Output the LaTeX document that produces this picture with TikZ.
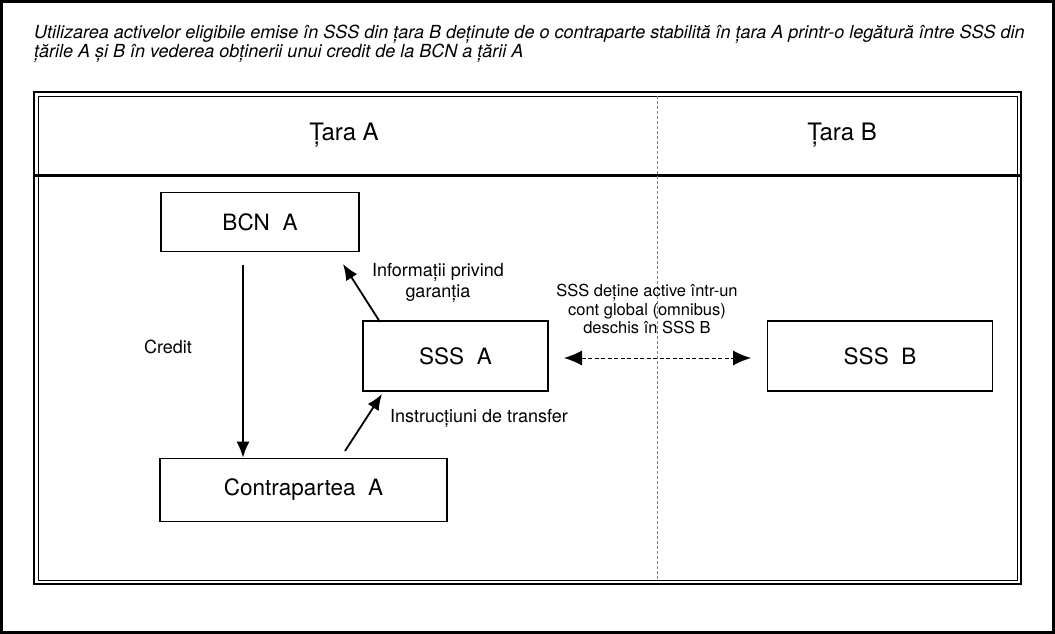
\documentclass[tikz,border=0pt]{standalone}
\usepackage{fontspec}
\setmainfont{TeX Gyre Heros}
\usetikzlibrary{arrows.meta}
\begin{document}
\begin{tikzpicture}[x=1pt,y=-1pt,
  box/.style={draw,line width=1.6pt,minimum width=#1,inner sep=0pt,font=\fontsize{22.5}{24}\selectfont},
  lbl/.style={font=\fontsize{18}{20.5}\selectfont,inner sep=0pt,align=center},
  arr/.style={line width=1.8pt,-{Latex[length=16pt,width=13pt]}},
  ]
\useasboundingbox (0,0) rectangle (1055,634);
\draw[line width=3pt] (1.5,1.5) rectangle (1053.5,632.5);
% title
\node[anchor=base west,inner sep=0pt,align=left,font=\fontsize{18}{19.5}\selectfont\itshape] (title) at (34,58)
 {Utilizarea activelor eligibile emise în SSS din țara B deținute de o contraparte stabilită în țara A printr-o legătură între SSS din\\
 țările A și B în vederea obținerii unui credit de la BCN a țării A};
% frame
\draw[line width=2.5pt] (34,92) rectangle (1021,584);
\draw[line width=0.8pt] (38,96) rectangle (1017,580);
\draw[line width=3pt] (34,175.5) -- (1021,175.5);
\draw[gray,line width=0.7pt,dash pattern=on 3pt off 2pt] (657,96) -- (657,580);
\node[font=\fontsize{24}{26}\selectfont] (tA) at (344,135) {Țara A};
\node[font=\fontsize{24}{26}\selectfont] (tB) at (842,135) {Țara B};
% boxes
\node[box=198pt,minimum height=59pt] (bcn) at (260,222) {BCN\ \ A};
\node[box=185pt,minimum height=70pt] (sa) at (455.5,356) {SSS\ \ A};
\node[box=225pt,minimum height=70pt] (sb) at (880,356) {SSS\ \ B};
\node[box=287pt,minimum height=63pt] (cp) at (303.5,490) {Contrapartea\ \ A};
% arrows
\coordinate (c1) at (243,265);
\draw[arr] (c1) -- (cp.north -| c1);
\coordinate (i1) at (380,322);
\coordinate (i2) at (343,264);
\draw[arr] (i1) -- (i2);
\coordinate (t1) at (345,451);
\coordinate (t2) at (382,394);
\draw[arr] (t1) -- (t2);
\coordinate (d1) at (564,358);
\coordinate (d2) at (751,358);
\draw[line width=1pt,dash pattern=on 4pt off 2.5pt,{Latex[length=18pt,width=15pt]}-{Latex[length=18pt,width=15pt]}] (d1) -- (d2);
% labels
\node[lbl] (lc) at (168,347) {Credit};
\node[lbl] (li) at (438,283) {Informații privind\\garanția};
\node[lbl,anchor=west] (lt) at (390,418) {Instrucțiuni de transfer};
\node[lbl,font=\fontsize{16.5}{18.5}\selectfont] (ls) at (647,309) {SSS deține active într-un\\cont global (omnibus)\\deschis în SSS B};
\end{tikzpicture}
\end{document}
